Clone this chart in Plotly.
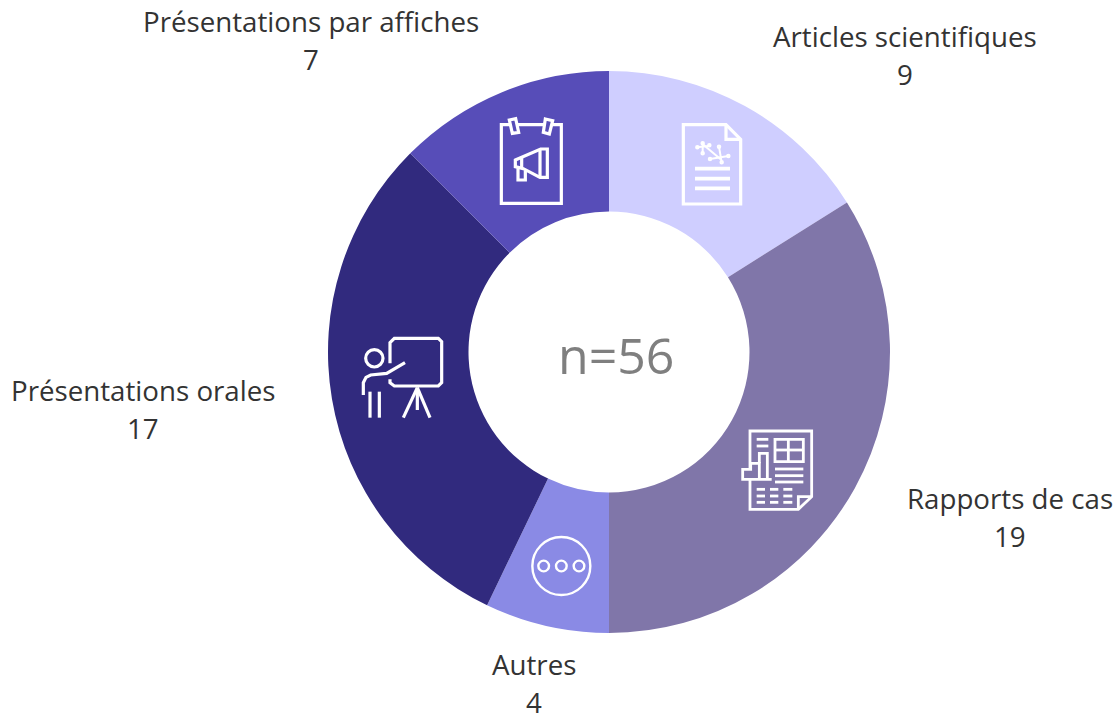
import plotly.graph_objects as go

categories = ["Articles scientifiques", "Rapports de cas", "Autres", "Présentations orales", "Présentations par affiches"]
values = [9, 19, 4, 17, 7]
colors = ["#CFCEFF", "#8076A9", "#8A8AE5", "#312A7E", "#574DB8"]
center_text = "n=56"

W, H = 1120, 717
FONT = "Open Sans"
# label centres in page pixels
label_x = [905, 1010, 534, 143, 311]
label_y = [36, 498, 664, 390, 21]
LINE_GAP = 38


def px(x):
    return x / W


def py(y):
    return 1 - y / H


fig = go.Figure(go.Pie(
    labels=categories, values=values, sort=False, direction="clockwise", rotation=0,
    hole=0.5, marker=dict(colors=colors, line=dict(width=0)),
    textinfo="none", hoverinfo="label+value", showlegend=False,
    domain=dict(x=[px(328), px(890)], y=[py(633), py(71)]),
))

annotations = [dict(x=px(615.5), y=py(355), xref="paper", yref="paper", text=center_text, showarrow=False,
                    font=dict(family=FONT, size=50, color="#7F7F7F", weight=500), xanchor="center", yanchor="middle")]
for c, v, x, y in zip(categories, values, label_x, label_y):
    annotations.append(dict(x=px(x), y=py(y), xref="paper", yref="paper", text=c, showarrow=False,
                            font=dict(family=FONT, size=27.7, color="#333333"), xanchor="center", yanchor="middle"))
    annotations.append(dict(x=px(x), y=py(y + LINE_GAP), xref="paper", yref="paper", text=str(v), showarrow=False,
                            font=dict(family=FONT, size=27.7, color="#333333"), xanchor="center", yanchor="middle"))

shapes = []


def poly(origin, pts, close=False, fill=None, lw=3.2):
    ox, oy = origin
    d = "M" + " L".join(f"{px(ox + a / 3):.5f},{py(oy + b / 3):.5f}" for a, b in pts)
    if close:
        d += " Z"
    shapes.append(dict(type="path", path=d, xref="paper", yref="paper",
                       line=dict(color="white", width=lw), fillcolor=fill or "rgba(0,0,0,0)"))


def circ(origin, cx, cy, r, lw=2.4):
    ox, oy = origin
    shapes.append(dict(type="circle", xref="paper", yref="paper",
                       x0=px(ox + (cx - r) / 3), x1=px(ox + (cx + r) / 3),
                       y0=py(oy + (cy + r) / 3), y1=py(oy + (cy - r) / 3),
                       line=dict(color="white", width=lw)))


# poster icon
o = (480, 100)
poly(o, [(64, 74), (244, 74), (244, 310), (64, 310)], True)
poly(o, [(88, 60), (107, 56), (116, 97), (97, 100)], True, colors[4])
poly(o, [(196, 57), (218, 62), (208, 102), (190, 97)], True, colors[4])
poly(o, [(106, 180), (182, 147), (202, 147), (202, 232), (180, 232), (130, 206), (106, 200)], True)
poly(o, [(180, 147), (180, 232)])
poly(o, [(125, 172), (125, 205)])
poly(o, [(114, 205), (114, 240), (136, 240), (136, 212)])

# document icon
poly(o, [(610, 74), (738, 74), (782, 118), (782, 312), (610, 312)], True)
poly(o, [(738, 74), (738, 118), (782, 118)])
for yy in (206, 236, 265):
    poly(o, [(645, yy), (750, yy)], lw=3.6)
poly(o, [(650, 142), (692, 137)], lw=2)
poly(o, [(668, 130), (668, 160)], lw=2)
poly(o, [(665, 130), (722, 178)], lw=2)
poly(o, [(690, 177), (745, 168)], lw=2)
poly(o, [(717, 140), (725, 187)], lw=2)
for cx, cy in ((652, 142), (668, 130), (668, 160), (690, 177), (745, 168), (717, 140), (725, 187), (688, 136)):
    circ(o, cx, cy, 3, lw=2.5)

# teaching icon
o = (340, 320)
poly(o, [(150, 130), (150, 68), (163, 55), (295, 55), (305, 65), (305, 188), (295, 198), (163, 198), (150, 188), (150, 178)])
circ(o, 103, 115, 26, lw=3.2)
poly(o, [(195, 128), (140, 160), (92, 165), (78, 172), (70, 188), (70, 225)])
poly(o, [(90, 215), (90, 293)])
poly(o, [(118, 215), (118, 293)])
poly(o, [(232, 203), (190, 293)])
poly(o, [(232, 203), (270, 293)])
poly(o, [(232, 203), (232, 270)])

# report icon
o = (520, 420)
poly(o, [(690, 145), (690, 33), (875, 33), (875, 230), (835, 268), (690, 268), (690, 180)], lw=2.8)
poly(o, [(835, 268), (835, 230), (875, 230)], lw=2.8)
poly(o, [(765, 58), (850, 58), (850, 125), (765, 125)], True, lw=2.8)
poly(o, [(805, 58), (805, 125)], lw=2.8)
poly(o, [(765, 90), (850, 90)], lw=2.8)
poly(o, [(710, 58), (745, 58)], lw=2.8)
poly(o, [(710, 78), (745, 78)], lw=2.8)
poly(o, [(755, 178), (668, 178), (668, 148), (692, 148), (692, 130), (718, 130), (718, 178)], lw=2.8)
poly(o, [(718, 130), (718, 100), (742, 100), (742, 178)], lw=2.8)
for yy in (147, 167, 186):
    poly(o, [(765, yy), (850, yy)], lw=2.8)
for yy in (208, 228, 247):
    for a, b in ((710, 735), (750, 775), (790, 817)):
        poly(o, [(a, yy), (b, yy)], lw=2.8)

# ellipsis icon
circ(o, 124, 438, 87)
for cx in (71, 124, 177):
    circ(o, cx, 438, 16)

fig.update_layout(
    width=W, height=H, margin=dict(l=0, r=0, t=0, b=0),
    paper_bgcolor="white", plot_bgcolor="white",
    annotations=annotations, shapes=shapes,
)
fig.write_html("out.html", config=dict(displayModeBar=False),
               post_script="document.body.style.margin='0';document.documentElement.style.overflow='hidden';")
